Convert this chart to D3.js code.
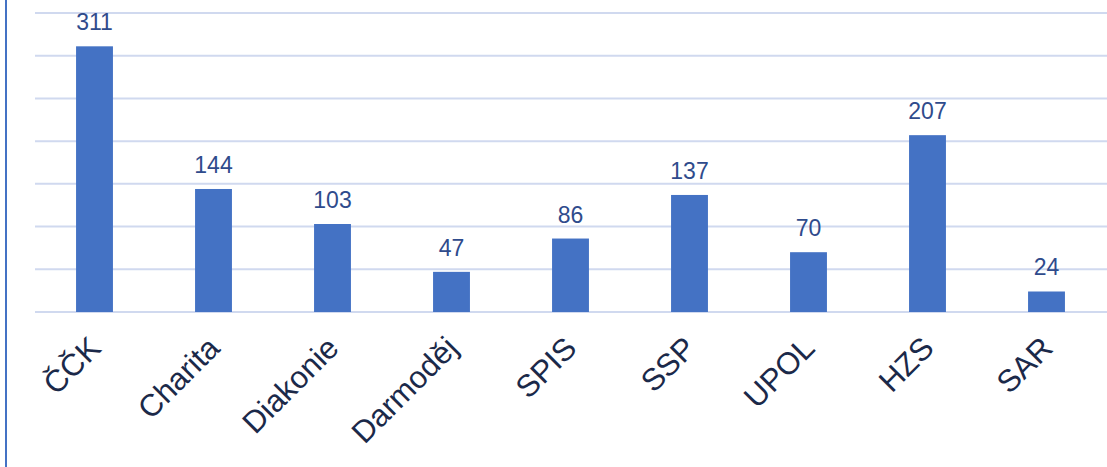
<!DOCTYPE html>
<html>
<head>
<meta charset="utf-8">
<script src="https://cdn.jsdelivr.net/npm/d3@7"></script>
<style>
  body { margin: 0; background: #fff; }
  svg { display: block; font-family: Arial, "Liberation Sans", sans-serif; }
</style>
</head>
<body>
<div id="chart"></div>
<script>
let categories = ['ČČK', 'Charita', 'Diakonie', 'Darmoděj', 'SPIS', 'SSP', 'UPOL', 'HZS', 'SAR']
let values = [311, 144, 103, 47, 86, 137, 70, 207, 24]
let gridTicks = [0, 50, 100, 150, 200, 250, 300, 350]

let width = 1107
let height = 467

let svg = d3.select('#chart')
  .append('svg')
  .attr('width', width)
  .attr('height', height)

let datapoints = categories.map((c, i) => ({ name: c, value: values[i] }))

let xScale = d3.scaleBand()
  .domain(categories)
  .range([35, 1106])
  .paddingInner(0.69)
  .paddingOuter(0.345)

let yScale = d3.scaleLinear()
  .domain([0, 350])
  .range([312, 13])

// left frame line
svg.append('line')
  .attr('x1', 6).attr('x2', 6)
  .attr('y1', 0).attr('y2', height)
  .attr('stroke', '#4472c4')
  .attr('stroke-width', 2)

// gridlines
svg.selectAll('.grid')
  .data(gridTicks)
  .enter()
  .append('line')
  .attr('class', 'grid')
  .attr('x1', 35)
  .attr('x2', width)
  .attr('y1', d => yScale(d))
  .attr('y2', d => yScale(d))
  .attr('stroke', '#d0d9ef')
  .attr('stroke-width', 2)

svg.selectAll('.bar')
  .data(datapoints)
  .enter()
  .append('rect')
  .attr('class', 'bar')
  .attr('x', d => xScale(d.name))
  .attr('width', xScale.bandwidth())
  .attr('y', d => yScale(d.value))
  .attr('height', d => yScale(0) - yScale(d.value))
  .attr('fill', '#4472c4')

svg.selectAll('.value-label')
  .data(datapoints)
  .enter()
  .append('text')
  .attr('class', 'value-label')
  .attr('x', d => xScale(d.name) + xScale.bandwidth() / 2)
  .attr('y', d => yScale(d.value) - 16)
  .attr('text-anchor', 'middle')
  .attr('font-size', 23)
  .attr('fill', '#2f4b8c')
  .text(d => d.value)

svg.selectAll('.category-title')
  .data(categories)
  .enter()
  .append('text')
  .attr('class', 'category-title')
  .attr('text-anchor', 'end')
  .attr('font-size', 31)
  .attr('fill', '#1b2949')
  .attr('transform', d => {
    let x = xScale(d) + xScale.bandwidth() / 2 + 8
    return `translate(${x},350) rotate(-45)`
  })
  .text(d => d)
</script>
</body>
</html>
